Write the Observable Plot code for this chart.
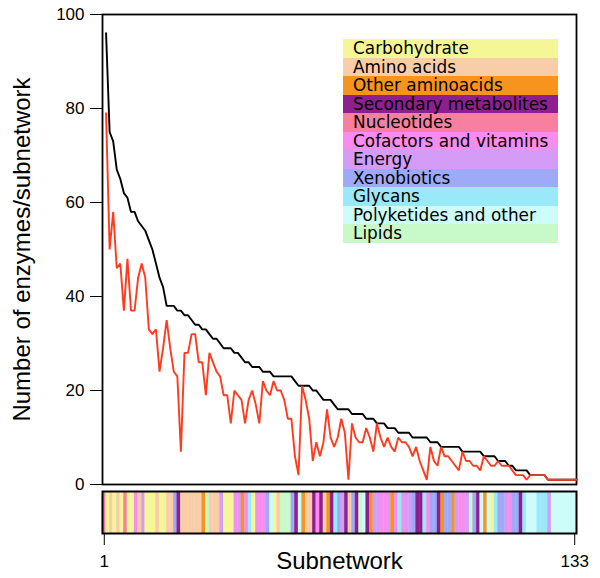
<!DOCTYPE html>
<html><head><meta charset="utf-8">
<script src="https://cdn.jsdelivr.net/npm/d3@7"></script>
<script src="https://cdn.jsdelivr.net/npm/@observablehq/plot@0.6"></script>
<style>
body{margin:0;background:#fff}
#wrap{position:relative;width:600px;height:578px;overflow:hidden;background:#fff}
#wrap svg{display:block}
#wrap [aria-label="y-axis label"], #wrap [aria-label="x-axis label"]{font-size:24px}
#legend{position:absolute;left:343px;top:39px;width:215px;font-family:"DejaVu Sans",Verdana,sans-serif;font-size:16.9px;color:#000}
#legend div{height:18.55px;line-height:18.55px;padding-left:10px;white-space:nowrap}
</style></head>
<body><div id="wrap"></div>
<script>
// Categories and colours
const categories = ["Carbohydrate","Amino acids","Other aminoacids","Secondary metabolites","Nucleotides","Cofactors and vitamins","Energy","Xenobiotics","Glycans","Polyketides and other","Lipids"];
const categoryCodes = ["C","A","O","S","N","V","E","X","G","P","L"];
const colours = ["#f5f796","#f9cda8","#f7941d","#8e1f8f","#f97fa2","#f98cef","#d59cf7","#9eaaf7","#9ae9f9","#ccfdf9","#c8f9c8"];

// Number of enzymes per subnetwork (black line)
const totalEnzymes = [96,75,73,67,65,62,61,58,58,56,55,54,52,50,47,44,42,38,38,38,37,37,36,36,35,34,34,33,33,32,31,31,30,29,29,29,28,28,27,26,26,25,25,25,24,24,24,23,23,23,23,23,23,22,21,21,21,21,20,20,19,18,18,18,17,16,16,16,16,15,15,15,15,14,14,14,13,13,13,12,12,12,11,11,11,11,10,10,10,10,10,9,9,9,8,8,8,8,8,8,7,7,7,7,7,7,6,6,6,6,5,5,5,4,4,3,3,3,3,2,2,2,2,2,1,1,1,1,1,1,1,1,1];
// Red line values
const redValues = [79,50,58,46,47,37,48,37,37,44,47,44,33,32,33,24,29,35,29,24,23,7,28,28,32,32,26,26,19,28,26,24,23,19,19,13,20,19,18,13,18,20,17,13,22,20,19,22,20,20,18,14,14,6,2,21,18,14,5,9,6,9,16,10,8,10,14,11,1,13,10,9,9,12,10,7,13,10,8,10,8,7,10,9,9,8,6,8,5,3,1,8,5,4,8,6,6,5,4,3,7,5,5,4,4,3,6,5,4,4,5,4,4,4,3,2,2,2,1,2,2,2,2,2,1,1,1,1,1,1,1,1,1];
// Category of each subnetwork (colour strip)
const subnetworkCategory = ["N","C","A","C","A","C","N","C","C","V","A","E","C","C","C","A","C","C","A","A","X","S","A","A","A","A","A","A","O","L","A","A","A","E","C","C","C","V","E","O","V","G","C","V","V","V","X","P","C","A","L","L","L","X","S","P","O","A","A","S","V","S","A","O","S","G","X","E","S","A","X","S","L","P","S","O","E","E","V","V","E","O","V","G","V","E","E","X","S","S","G","V","X","X","S","O","X","X","O","E","V","V","E","L","X","S","P","O","P","C","G","X","X","E","V","X","X","S","G","P","P","P","G","G","G","E","P","P","P","P","P","P","P"];

const yTicks = [0,20,40,60,80,100];
const xTicks = [1,133];

const subnetworks = d3.range(1, totalEnzymes.length + 1);
const rows = subnetworks.map((s, i) => ({
  subnetwork: s,
  total: totalEnzymes[i],
  red: redValues[i],
  category: categories[categoryCodes.indexOf(subnetworkCategory[i])]
}));

const baseStyle = {fontFamily: '"Liberation Sans", Arial, Helvetica, sans-serif', fontSize: "17px", color: "#000", background: "#fff", overflow: "visible"};

const main = Plot.plot({
  width: 600, height: 486,
  marginLeft: 102, marginRight: 24, marginTop: 14, marginBottom: 2,
  style: baseStyle,
  x: {domain: [0, 133], axis: null},
  y: {domain: [0, 100]},
  marks: [
    Plot.axisY(yTicks, {tickSize: 12, tickPadding: 6, label: "Number of enzymes/subnetwork", labelAnchor: "center", labelOffset: 90, labelArrow: false}),
    Plot.frame({stroke: "#000", strokeWidth: 1.8}),
    Plot.lineY(rows, {x: "subnetwork", y: "total", stroke: "#000", strokeWidth: 1.9, strokeLinejoin: "miter"}),
    Plot.lineY(rows, {x: "subnetwork", y: "red", stroke: "#ff3b1f", strokeWidth: 1.9, strokeLinejoin: "miter"})
  ]
});

const strip = Plot.plot({
  width: 600, height: 92,
  marginLeft: 102, marginRight: 24, marginTop: 5, marginBottom: 45,
  style: baseStyle,
  x: {type: "band", domain: subnetworks, padding: 0, axis: null},
  color: {domain: categories, range: colours},
  marks: [
    Plot.cell(rows, {x: "subnetwork", fill: "category", stroke: "category", strokeWidth: 0.4}),
    Plot.frame({stroke: "#000", strokeWidth: 2}),
    Plot.axisX(xTicks, {tickSize: 12, tickPadding: 9, label: "Subnetwork", labelAnchor: "center", labelOffset: 35, labelArrow: false})
  ]
});

const wrap = document.getElementById("wrap");
wrap.appendChild(main);
wrap.appendChild(strip);

const legend = document.createElement("div");
legend.id = "legend";
categories.forEach((c, i) => {
  const row = document.createElement("div");
  row.style.background = colours[i];
  row.textContent = c;
  legend.appendChild(row);
});
wrap.appendChild(legend);
</script></body></html>
